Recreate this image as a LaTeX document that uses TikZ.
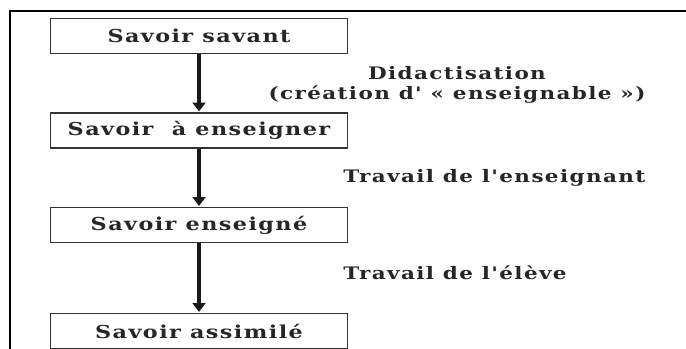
\documentclass[tikz,border=0pt]{standalone}
\usepackage{fontspec}
\newfontfamily\lbl[LetterSpace=8,FakeStretch=1.25]{DejaVu Serif}
\usetikzlibrary{arrows.meta}
\newlength\reftw
\begin{document}
\settowidth\reftw{\lbl\bfseries\fontsize{10}{12}\selectfont Savoir savant}%
\pgfmathsetmacro\lblsize{10*137.25/\reftw}%
\pgfmathsetmacro\lblskip{1.2*\lblsize}%
\pgfmathsetmacro\notesize{0.965*\lblsize}%
\pgfmathsetmacro\noteskip{1.2*\notesize}%
\begin{tikzpicture}[x=0.75pt,y=-0.75pt]
\tikzset{
  txt/.style={font=\lbl\bfseries\fontsize{\lblsize pt}{\lblskip pt}\selectfont, text=black!85},
  stagebox/.style={txt, draw=black!80, line width=1.4pt, minimum width=222.75pt, minimum height=26.25pt, inner sep=0pt},
  flow/.style={line width=2.8pt, draw=black!90, -{Triangle[width=9.5pt,length=6.5pt]}, shorten >=0.5pt},
  note/.style={font=\lbl\bfseries\fontsize{\notesize pt}{\noteskip pt}\selectfont, text=black!85, inner sep=0pt}}
\useasboundingbox (0,0) rectangle (686,349);
\fill[white] (0,0) rectangle (686,349);
\draw[line width=1.5pt] (9.5,349) -- (9.5,11) -- (686,11);
\node[stagebox] (s1) at (199,36) {Savoir savant};
\node[stagebox] (s2) at (199,130.5) {Savoir~ à enseigner};
\node[stagebox] (s3) at (199,225) {Savoir enseigné};
\node[stagebox] (s4) at (199,331) {Savoir assimilé};
\draw[flow] (s1) -- (s2);
\draw[flow] (s2) -- (s3);
\draw[flow] (s3) -- (s4);
\node[note] (n1) at (457,73) {Didactisation};
\node[note] (n2) at (457,95) {(création d' « enseignable »)};
\node[note, anchor=west] (n3) at (343,178) {Travail de l'enseignant};
\node[note, anchor=west] (n4) at (343,273) {Travail de l'élève};
\end{tikzpicture}
\end{document}
